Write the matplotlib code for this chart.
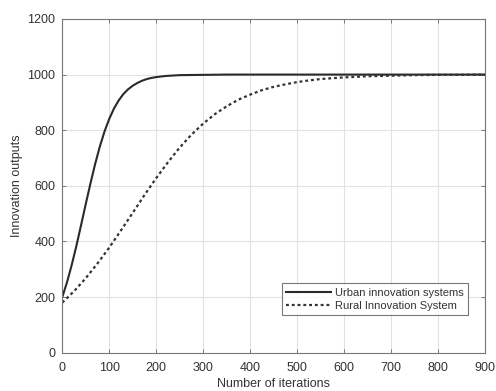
import matplotlib
matplotlib.use("Agg")
import matplotlib.pyplot as plt

plt.rcParams['font.family'] = ['Liberation Sans', 'DejaVu Sans']

urban_x = [0, 10, 20, 30, 40, 50, 60, 70, 80, 90, 100, 110, 120, 130, 140, 150,
           160, 170, 180, 190, 200, 220, 250, 300, 350, 400, 500, 600, 700, 800, 900]
urban_y = [200, 253, 315, 384, 459, 535, 609, 679, 742, 796, 841, 878, 907, 930, 947, 960,
           970, 978, 984, 988, 991, 995, 998, 999, 1000, 1000, 1000, 1000, 1000, 1000, 1000]

rural_x = [0, 25, 50, 75, 100, 125, 150, 175, 200, 225, 250, 275, 300, 325, 350, 375,
           400, 425, 450, 475, 500, 525, 550, 575, 600, 625, 650, 675, 700, 750, 800, 850, 900]
rural_y = [180, 221, 268, 321, 378, 440, 503, 567, 628, 685, 738, 784, 824, 858, 886, 910,
           928, 944, 956, 965, 973, 979, 984, 987, 990, 992, 994, 995, 996, 998, 999, 999, 1000]

x_ticks = [0, 100, 200, 300, 400, 500, 600, 700, 800, 900]
y_ticks = [0, 200, 400, 600, 800, 1000, 1200]

fig = plt.figure(figsize=(4.96, 3.91), dpi=100)
ax = fig.add_axes([0.1256, 0.098, 0.8524, 0.8535])

ax.plot(urban_x, urban_y, color='#2a2a2a', lw=1.5, label='Urban innovation systems')
ax.plot(rural_x, rural_y, color='#333333', lw=1.6, ls=(0, (1.3, 1.3)), label='Rural Innovation System')

ax.set_xlim(0, 900)
ax.set_ylim(0, 1200)
ax.set_xticks(x_ticks)
ax.set_yticks(y_ticks)
ax.grid(True, color='#e2e2e2', lw=0.8)
ax.set_axisbelow(True)
ax.tick_params(direction='in', top=True, right=True, length=3, width=0.7,
               colors='#777777', labelcolor='#333333', labelsize=9)
ax.tick_params(axis='x', pad=7)
ax.tick_params(axis='y', pad=5)
for s in ax.spines.values():
    s.set_color('#777777')
    s.set_linewidth(0.8)

ax.set_xlabel('Number of iterations', fontsize=9, color='#333333', labelpad=2.5)
ax.set_ylabel('Innovation outputs', fontsize=9, color='#333333', labelpad=3)

leg = ax.legend(loc='lower right', bbox_to_anchor=(0.9605, 0.113), borderaxespad=0,
                fontsize=8, frameon=True, fancybox=False, handlelength=4.0,
                handletextpad=0.4, borderpad=0.4, labelspacing=0.25)
leg.get_frame().set_edgecolor('#555555')
leg.get_frame().set_linewidth(0.8)
for t in leg.get_texts():
    t.set_color('#333333')

fig.savefig('out.png', dpi=100)
